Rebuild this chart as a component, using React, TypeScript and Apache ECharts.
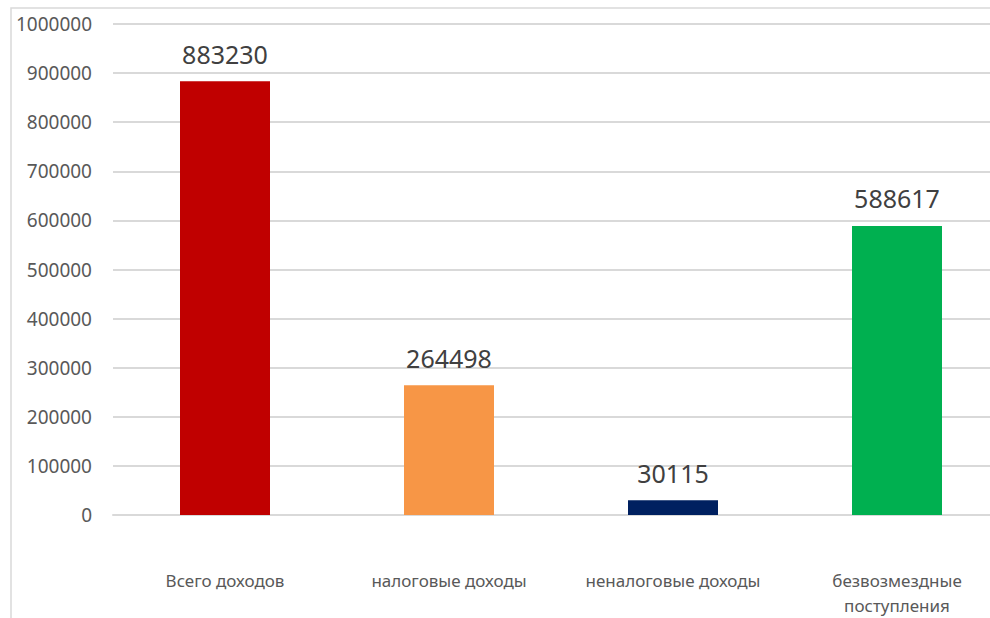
import React, { useEffect, useRef } from "react";
import * as echarts from "echarts";

const categories = ["Всего доходов", "налоговые доходы", "неналоговые доходы", "безвозмездные\nпоступления"];
const values = [883230, 264498, 30115, 588617];
const barColors = ["#C00000", "#F79646", "#002060", "#00B050"];
const yMin = 0;
const yMax = 1000000;
const yInterval = 100000;

export default function App() {
  const ref = useRef<HTMLDivElement>(null);
  useEffect(() => {
    if (!ref.current) return;
    const chart = echarts.init(ref.current, null, { renderer: "svg" });
    chart.setOption({
      animation: false,
      backgroundColor: "#ffffff",
      graphic: [
        {
          type: "rect",
          shape: { x: 11, y: 8, width: 1100, height: 700 },
          style: { fill: "none", stroke: "#d9d9d9", lineWidth: 1.5 },
          silent: true,
          z: -1,
        },
      ],
      grid: { left: 113, width: 896, top: 24, height: 491, outerBoundsMode: "none", containLabel: false },
      xAxis: {
        type: "category",
        data: categories,
        axisLine: { show: true, lineStyle: { color: "#d9d9d9", width: 2 } },
        axisTick: { show: false },
        axisLabel: {
          color: "#595959",
          fontFamily: "Noto Sans",
          fontSize: 17,
          lineHeight: 25,
          margin: 53,
          interval: 0,
        },
      },
      yAxis: {
        type: "value",
        min: yMin,
        max: yMax,
        interval: yInterval,
        axisLine: { show: false },
        axisTick: { show: false },
        splitLine: { lineStyle: { color: "#d9d9d9", width: 2 } },
        axisLabel: {
          color: "#595959",
          fontFamily: "Noto Sans",
          fontSize: 19,
          margin: 21,
          formatter: (v: number) => String(v),
        },
      },
      series: [
        {
          type: "bar",
          data: values.map((v, i) => ({ value: v, itemStyle: { color: barColors[i] } })),
          barWidth: 90,
          label: {
            show: true,
            position: "top",
            distance: 15,
            color: "#404040",
            fontFamily: "Noto Sans",
            fontSize: 25,
          },
        },
      ],
    });
    return () => chart.dispose();
  }, []);
  return (
    <div
      ref={ref}
      style={{ position: "absolute", left: 0, top: 0, width: 990, height: 618 }}
    />
  );
}
